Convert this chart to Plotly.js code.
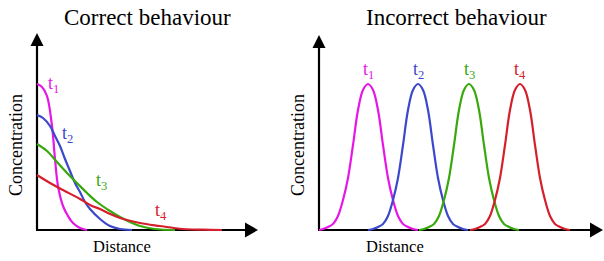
<!DOCTYPE html>
<html>
<head>
<meta charset="utf-8">
<script src="https://cdn.plot.ly/plotly-3.0.1.min.js"></script>
<style>html,body{margin:0;padding:0;background:#fff;}#chart{width:604px;height:261px;}</style>
</head>
<body>
<div id="chart"></div>
<script>
// ---- Data (arbitrary units) ----
const seriesNames = ['t<sub>1</sub>', 't<sub>2</sub>', 't<sub>3</sub>', 't<sub>4</sub>'];
const colors = ['#e617e6', '#3b48cc', '#38a80c', '#d4202c'];

// Correct behaviour (diffusion spreading from the origin)
const corrT1x = [0, 5, 10, 15, 18, 21, 26, 31, 36, 43, 50];
const corrT1y = [146, 143, 134, 104, 71, 44, 24, 14, 7, 2, 0];
const corrT2x = [0, 6, 13, 18, 23, 28, 33, 38, 43, 48, 53, 63, 73, 83, 95];
const corrT2y = [115, 112, 104, 94, 84, 71, 59, 47, 38, 28, 21, 11, 4, 1, 0];
const corrT3x = [0, 10, 20, 30, 40, 50, 60, 73, 83, 93, 103, 118, 138];
const corrT3y = [86, 79, 68, 57, 47, 37, 28, 19, 13, 8, 4, 1, 0];
const corrT4x = [0, 13, 26, 43, 55, 63, 73, 83, 103, 123, 146, 165, 185];
const corrT4y = [55, 47, 40, 31, 24, 21, 16, 12, 7, 4, 1, 0.3, 0];

// Incorrect behaviour (profile translating without spreading)
const incT1x = [0, 4, 9, 14, 19, 24, 29, 34, 39, 44, 49, 54, 59, 64, 69, 74, 79, 84, 89, 94, 99];
const incT1y = [0, 1, 3, 6, 14, 30, 52, 85, 120, 140, 146, 140, 120, 85, 52, 30, 14, 6, 3, 1, 0];
const incT2x = [49, 54, 59, 64, 69, 74, 79, 84, 89, 94, 99, 104, 109, 114, 119, 124, 129, 134, 139, 144, 149];
const incT2y = [0, 1, 3, 6, 14, 30, 52, 85, 120, 140, 146, 140, 120, 85, 52, 30, 14, 6, 3, 1, 0];
const incT3x = [100, 105, 110, 115, 120, 125, 130, 135, 140, 145, 150, 155, 160, 165, 170, 175, 180, 185, 190, 195, 200];
const incT3y = [0, 1, 3, 6, 14, 30, 52, 85, 120, 140, 146, 140, 120, 85, 52, 30, 14, 6, 3, 1, 0];
const incT4x = [151, 156, 161, 166, 171, 176, 181, 186, 191, 196, 201, 206, 211, 216, 221, 226, 231, 236, 241, 246, 251];
const incT4y = [0, 1, 3, 6, 14, 30, 52, 85, 120, 140, 146, 140, 120, 85, 52, 30, 14, 6, 3, 1, 0];

// label anchor points
const corrLabelX = [16, 30, 64, 124];
const corrLabelY = [146, 96, 49, 19];
const incPeakX = [49, 99, 150, 201];
const incLabelY = [160, 160, 160, 160];

const titles = ['Correct behaviour', 'Incorrect behaviour'];
const xTitle = 'Distance';
const yTitle = 'Concentration';

// ---- Build traces ----
const corrX = [corrT1x, corrT2x, corrT3x, corrT4x];
const corrY = [corrT1y, corrT2y, corrT3y, corrT4y];
const incX = [incT1x, incT2x, incT3x, incT4x];
const incY = [incT1y, incT2y, incT3y, incT4y];

const traces = [];
for (let i = 0; i < 4; i++) {
  traces.push({x: corrX[i], y: corrY[i], xaxis: 'x', yaxis: 'y', mode: 'lines',
    line: {color: colors[i], width: 2.2, shape: 'spline', smoothing: 1}, hoverinfo: 'skip', showlegend: false});
}
for (let i = 0; i < 4; i++) {
  traces.push({x: incX[i], y: incY[i], xaxis: 'x2', yaxis: 'y2', mode: 'lines',
    line: {color: colors[i], width: 2.2, shape: 'spline', smoothing: 1}, hoverinfo: 'skip', showlegend: false});
}

const serif = 'Liberation Serif';
const ann = [];
for (let i = 0; i < 4; i++) {
  ann.push({xref: 'x', yref: 'y', x: corrLabelX[i], y: corrLabelY[i], text: seriesNames[i], showarrow: false,
    font: {family: serif, size: 18, color: colors[i]}, xanchor: 'center', yanchor: 'middle'});
  ann.push({xref: 'x2', yref: 'y2', x: incPeakX[i], y: incLabelY[i], text: seriesNames[i], showarrow: false,
    font: {family: serif, size: 18, color: colors[i]}, xanchor: 'center', yanchor: 'middle'});
}
const W = 604, H = 261;
function P(px, py) { return {x: px / W, y: 1 - py / H}; }
const titleFont = {family: serif, size: 23, color: '#000'};
const labFont = {family: serif, size: 18, color: '#000'};
const xLabFont = {family: serif, size: 16.5, color: '#000'};
[[147, 17, titles[0], titleFont, 0], [456, 17, titles[1], titleFont, 0],
 [122, 246, xTitle, xLabFont, 0], [395, 246, xTitle, xLabFont, 0],
 [16, 145, yTitle, labFont, -90], [298, 145, yTitle, labFont, -90]].forEach(a => {
  const p = P(a[0], a[1]);
  ann.push({xref: 'paper', yref: 'paper', x: p.x, y: p.y, text: a[2], showarrow: false,
    font: a[3], textangle: a[4], xanchor: 'center', yanchor: 'middle'});
});

// axes with arrowheads (decoration)
function axesShapes(xr, yr, xEnd, yEnd) {
  const ah = 13, hw = 6.5;
  return [
    {type: 'line', xref: xr, yref: yr, x0: 0, y0: 0, x1: 0, y1: yEnd - ah, line: {color: '#000', width: 2.2}, layer: 'below'},
    {type: 'line', xref: xr, yref: yr, x0: -1, y0: 0, x1: xEnd - ah, y1: 0, line: {color: '#000', width: 2.2}, layer: 'below'},
    {type: 'path', xref: xr, yref: yr, path: `M ${-hw} ${yEnd - ah} L ${hw} ${yEnd - ah} L 0 ${yEnd} Z`, fillcolor: '#000', line: {width: 0}, layer: 'below'},
    {type: 'path', xref: xr, yref: yr, path: `M ${xEnd - ah} ${-hw - 1} L ${xEnd - ah} ${hw + 1} L ${xEnd} 0 Z`, fillcolor: '#000', line: {width: 0}, layer: 'below'}
  ];
}
const shapes = axesShapes('x', 'y', 221, 197).concat(axesShapes('x2', 'y2', 284, 195));

const hidden = {showgrid: false, zeroline: false, showline: false, showticklabels: false, ticks: '', fixedrange: true};
const layout = {
  width: W, height: H,
  margin: {l: 0, r: 0, t: 0, b: 0},
  font: {family: serif},
  paper_bgcolor: '#fff', plot_bgcolor: 'rgba(0,0,0,0)',
  xaxis: Object.assign({domain: [0, 296 / W], range: [-37, 259]}, hidden),
  yaxis: Object.assign({domain: [0, 1], range: [-31, 230]}, hidden),
  xaxis2: Object.assign({domain: [302 / W, 1], range: [-17, 285]}, hidden),
  yaxis2: Object.assign({domain: [0, 1], range: [-31, 230], anchor: 'x2'}, hidden),
  annotations: ann,
  shapes: shapes,
  showlegend: false
};
Plotly.newPlot('chart', traces, layout, {displayModeBar: false});
</script>
</body>
</html>
